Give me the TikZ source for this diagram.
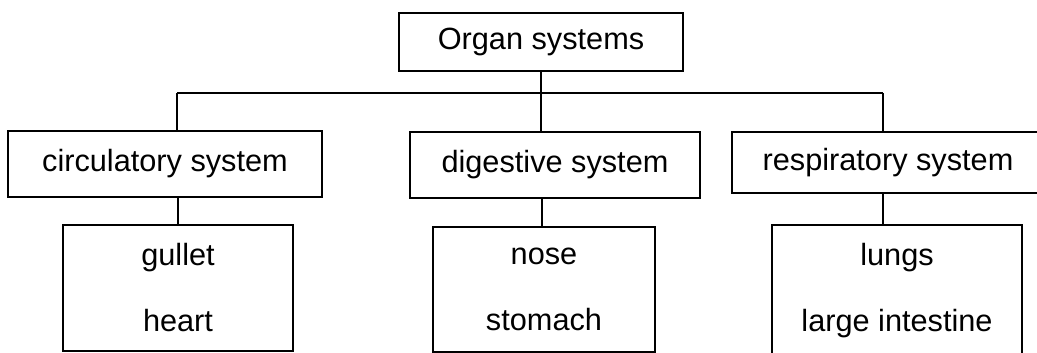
\documentclass[tikz,border=0pt]{standalone}
\usepackage{fontspec}
\setmainfont{Liberation Sans}
\begin{document}
\begin{tikzpicture}[x=1pt,y=-1pt,
  box/.style={draw=black,line width=1.5pt,rectangle,inner sep=0pt,align=center,
    font=\fontsize{30.7}{66}\selectfont},
  conn/.style={draw=black,line width=1.5pt}]
\clip (0,0) rectangle (1037,353);
\fill[white] (0,0) rectangle (1037,353);
\node[box,minimum width=284pt,minimum height=58pt] (top) at (541,42) {Organ systems};
\node[box,minimum width=314pt,minimum height=66pt] (circ) at (165,164) {circulatory system};
\node[box,minimum width=290pt,minimum height=66pt] (dig) at (555,165) {digestive system};
\node[box,minimum width=312pt,minimum height=61pt] (resp) at (888,162.5) {respiratory system};
\node[box,minimum width=230pt,minimum height=126pt] (gul) at (178,288) {gullet\\heart};
\node[box,minimum width=222pt,minimum height=125pt] (nose) at (544,289.5) {nose\\stomach};
\node[box,minimum width=250pt,minimum height=131pt] (lung) at (897,290.5) {lungs\\large intestine};
\coordinate (hl) at (177,93);
\coordinate (hr) at (883,93);
\draw[conn] (hl) -- (hr);
\draw[conn] (hl) -- (hl |- circ.north);
\draw[conn] (hr) -- (hr |- resp.north);
\draw[conn] (top.south) -- (top.south |- dig.north);
\draw[conn] (gul.north |- circ.south) -- (gul.north);
\draw[conn] ([xshift=-2pt]nose.north |- dig.south) -- ([xshift=-2pt]nose.north);
\draw[conn] (hr |- resp.south) -- (hr |- lung.north);
\end{tikzpicture}
\end{document}
